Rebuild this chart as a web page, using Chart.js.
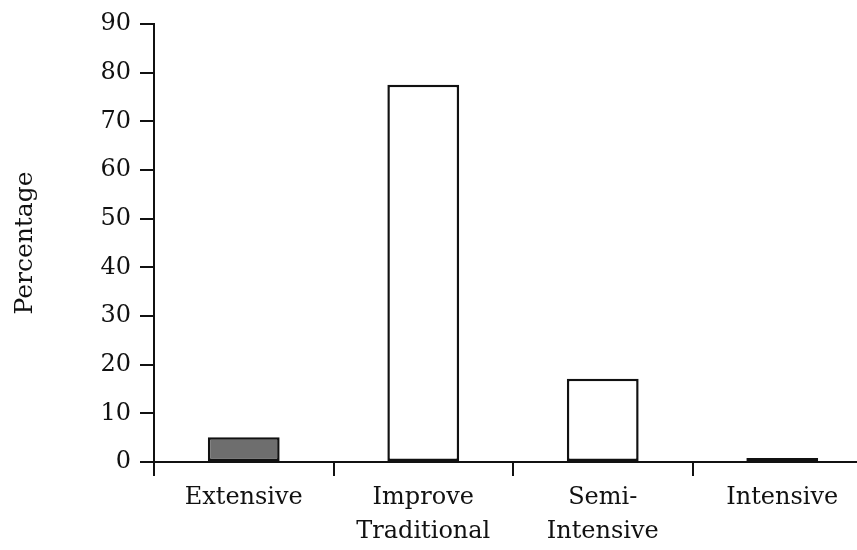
<!DOCTYPE html>
<html>
<head>
<meta charset="utf-8">
<script src="https://cdn.jsdelivr.net/npm/chart.js@4/dist/chart.umd.min.js"></script>
<style>
  html, body { margin: 0; padding: 0; background: #ffffff; overflow: hidden; }
  #wrap { width: 880px; height: 550px; }
</style>
</head>
<body>
<div id="wrap"><canvas id="c" width="880" height="550"></canvas></div>
<script>
const categories = [["Extensive"], ["Improve", "Traditional"], ["Semi-", "Intensive"], ["Intensive"]];
const percentages = [5.1, 77.5, 17.1, 0.8];
const yTicks = [0, 10, 20, 30, 40, 50, 60, 70, 80, 90];
const barColors = ["#6e6e6e", "#ffffff", "#ffffff", "#1a1a1a"];
const yTitle = "Percentage";

const FONT = "'DejaVu Serif', 'Liberation Serif', serif";

const whiteBg = {
  id: 'whiteBg',
  beforeDraw(chart) {
    const ctx = chart.ctx;
    ctx.save();
    ctx.fillStyle = '#ffffff';
    ctx.fillRect(0, 0, chart.width, chart.height);
    ctx.restore();
  }
};

new Chart(document.getElementById('c'), {
  type: 'bar',
  data: {
    labels: categories,
    datasets: [{
      data: percentages,
      backgroundColor: barColors,
      borderColor: '#111111',
      borderWidth: 2.5,
      borderSkipped: false,
      categoryPercentage: 1.0,
      barPercentage: 0.4
    }]
  },
  options: {
    responsive: false,
    animation: false,
    devicePixelRatio: 1,
    layout: { padding: { top: 24, right: 8, left: 0, bottom: 0 } },
    plugins: { legend: { display: false }, tooltip: { enabled: false } },
    scales: {
      x: {
        grid: { drawOnChartArea: false, drawTicks: true, tickLength: 14, color: '#111111', lineWidth: 2, offset: true },
        border: { display: true, color: '#111111', width: 2 },
        ticks: { color: '#111111', padding: 4, maxRotation: 0, autoSkip: false,
                 font: { family: FONT, size: 24, lineHeight: 1.45 } },
        afterFit(scale) { scale.height = 88; }
      },
      y: {
        min: 0, max: 90,
        afterBuildTicks(scale) { scale.ticks = yTicks.map(v => ({ value: v })); },
        grid: { drawOnChartArea: false, drawTicks: true, tickLength: 14, color: '#111111', lineWidth: 2 },
        border: { display: true, color: '#111111', width: 2 },
        ticks: { color: '#111111', padding: 9, font: { family: FONT, size: 24 } },
        title: { display: true, text: yTitle, color: '#111111',
                 font: { family: FONT, size: 25, lineHeight: 1.2 }, padding: { top: 10, bottom: 0 } },
        afterFit(scale) { scale.width = 154; }
      }
    }
  },
  plugins: [whiteBg]
});
</script>
</body>
</html>
